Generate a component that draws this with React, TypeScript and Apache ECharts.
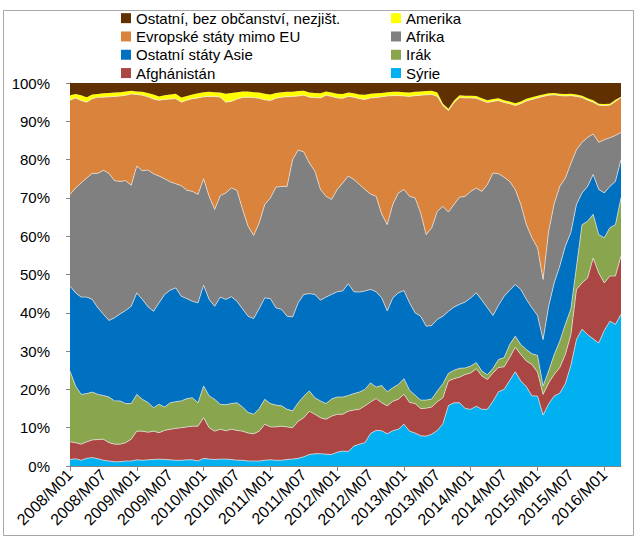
import React, { useEffect, useRef } from "react";
import * as echarts from "echarts";

// 2008/M01 .. 2016/M04 (100 months)
const startYear = 2008;
const monthCount = 100;
const categories: string[] = [];
for (let i = 0; i < monthCount; i++) {
  const y = startYear + Math.floor(i / 12);
  const m = (i % 12) + 1;
  categories.push(`${y}/M${m < 10 ? "0" + m : m}`);
}

const yTicks = [0, 10, 20, 30, 40, 50, 60, 70, 80, 90, 100];

// shares in %, bottom of the stack first
const syrie = [
  1.7, 1.9, 1.5, 2.0, 2.2, 1.9, 1.5, 1.3, 1.1, 1.1,
  1.3, 1.3, 1.6, 1.5, 1.6, 1.7, 1.8, 1.7, 1.6, 1.5,
  1.5, 1.6, 1.6, 1.3, 2.0, 1.8, 1.7, 1.8, 1.8, 1.7,
  1.5, 1.5, 1.3, 1.3, 1.3, 1.5, 1.6, 1.5, 1.5, 1.7,
  1.8, 2.0, 2.4, 3.0, 3.2, 3.2, 3.1, 3.0, 3.6, 3.9,
  3.8, 5.2, 5.7, 6.1, 8.5, 9.3, 9.2, 8.4, 9.2, 9.6,
  10.9, 9.1, 8.6, 7.9, 7.8, 8.3, 9.3, 11.0, 15.8, 16.5,
  16.5, 15.0, 14.8, 15.6, 14.8, 14.8, 16.9, 19.4, 20.0, 22.3,
  24.6, 22.2, 20.7, 18.3, 18.3, 13.3, 16.2, 18.3, 19.0, 21.5,
  26.3, 33.0, 35.7, 34.3, 33.2, 32.1, 35.4, 37.8, 37.0, 39.6,
];
const afghanistan = [
  4.6, 4.2, 4.2, 4.3, 4.6, 5.0, 5.5, 4.8, 4.6, 4.6,
  4.8, 5.7, 7.5, 7.6, 7.2, 7.4, 6.9, 7.6, 8.0, 8.3,
  8.5, 8.6, 8.8, 9.1, 10.6, 8.2, 7.4, 7.8, 7.4, 7.9,
  7.8, 7.6, 7.3, 7.1, 7.8, 9.4, 8.6, 8.7, 8.9, 8.5,
  8.2, 9.7, 10.2, 11.3, 10.3, 9.4, 9.1, 10.0, 9.9, 9.6,
  10.5, 9.4, 9.1, 9.6, 8.2, 8.3, 7.3, 7.3, 7.7, 7.8,
  7.8, 7.5, 7.7, 7.1, 7.3, 7.1, 7.5, 6.8, 6.4, 6.3,
  6.7, 8.9, 9.5, 9.8, 8.7, 7.8, 7.4, 6.3, 5.9, 6.0,
  6.4, 6.9, 6.7, 8.2, 6.2, 5.4, 5.5, 5.6, 6.7, 7.6,
  8.0, 13.1, 12.1, 14.8, 21.1, 18.3, 12.4, 11.8, 12.6, 15.2,
];
const irak = [
  18.5, 14.8, 13.0, 12.6, 12.5, 11.8, 11.4, 11.9, 11.3, 11.3,
  10.2, 9.3, 9.6, 8.3, 7.8, 6.1, 7.4, 6.1, 6.9, 7.0,
  7.0, 7.4, 7.4, 6.1, 8.3, 8.3, 8.3, 6.5, 6.8, 6.7,
  7.2, 6.3, 5.4, 5.1, 5.9, 6.5, 6.1, 5.7, 5.3, 4.6,
  4.4, 4.8, 5.6, 5.3, 4.3, 4.4, 4.1, 4.5, 4.5, 4.5,
  4.1, 4.3, 4.5, 4.3, 5.0, 3.0, 4.5, 3.7, 3.5, 3.9,
  4.1, 3.2, 2.2, 2.2, 2.1, 2.1, 2.8, 3.7, 2.0, 2.2,
  2.3, 1.7, 1.8, 1.6, 1.3, 1.2, 1.2, 2.1, 2.4, 3.4,
  2.9, 2.6, 3.0, 2.8, 4.4, 2.2, 3.1, 5.2, 6.9, 7.9,
  6.7, 5.9, 15.2, 14.8, 11.4, 10.0, 11.8, 12.6, 13.4, 15.2,
];
const ostatniAsie = [
  22.2, 24.3, 25.4, 25.2, 24.2, 22.6, 21.2, 20.0, 21.7, 22.7,
  24.3, 25.4, 26.5, 26.1, 25.0, 25.2, 26.5, 29.4, 29.4, 29.7,
  27.3, 26.1, 25.2, 26.1, 26.3, 25.2, 24.3, 28.0, 27.5, 27.9,
  26.5, 25.6, 25.1, 25.0, 26.1, 26.5, 27.4, 25.4, 25.2, 24.3,
  24.5, 26.1, 26.6, 25.4, 27.0, 26.3, 27.8, 27.3, 27.5, 27.7,
  29.2, 26.6, 26.1, 25.7, 24.4, 24.9, 22.9, 21.1, 23.5, 23.9,
  23.0, 22.8, 21.5, 21.9, 19.3, 19.2, 18.7, 17.6, 16.2, 16.5,
  16.7, 17.2, 17.8, 18.2, 18.5, 17.5, 13.8, 14.2, 16.0, 14.2,
  13.5, 14.4, 13.1, 12.0, 10.4, 12.1, 16.9, 18.7, 19.6, 20.4,
  20.0, 16.3, 8.3, 9.1, 10.4, 11.8, 11.7, 10.8, 11.3, 10.0,
];
const afrika = [
  23.9, 27.4, 29.8, 31.1, 32.9, 35.1, 37.6, 38.4, 35.8, 34.6,
  33.9, 31.6, 33.1, 33.6, 35.7, 35.9, 33.1, 30.2, 28.3, 27.2,
  28.9, 28.3, 28.7, 28.3, 27.8, 26.9, 25.3, 26.5, 27.8, 28.4,
  29.0, 26.0, 23.5, 21.7, 22.4, 24.4, 26.3, 31.5, 32.1, 33.9,
  41.1, 39.9, 37.2, 34.1, 32.2, 28.9, 26.3, 24.8, 26.7, 28.2,
  28.1, 29.3, 28.1, 26.5, 24.9, 24.9, 21.9, 22.5, 24.4, 26.1,
  26.4, 27.8, 30.0, 27.0, 23.9, 25.5, 28.2, 28.7, 25.9, 26.8,
  28.0, 27.6, 27.8, 27.4, 28.4, 32.2, 37.2, 34.3, 31.1, 28.4,
  24.8, 22.2, 19.5, 18.3, 17.7, 15.7, 19.6, 20.7, 20.8, 17.8,
  18.0, 14.3, 13.2, 12.8, 10.6, 12.3, 13.9, 12.7, 12.0, 7.1,
];
const evropa = [
  24.6, 23.5, 21.5, 19.8, 19.5, 19.9, 19.1, 20.0, 22.0, 22.3,
  22.3, 23.8, 18.7, 19.7, 19.1, 19.5, 19.8, 20.7, 21.6, 22.2,
  21.8, 23.5, 24.2, 25.2, 21.4, 26.1, 29.5, 25.7, 23.7, 22.6,
  23.8, 29.2, 33.7, 36.0, 32.5, 27.3, 25.4, 23.2, 23.3, 23.4,
  16.5, 14.1, 14.8, 17.2, 19.2, 23.9, 26.4, 26.9, 23.9, 22.1,
  20.8, 21.5, 22.4, 23.5, 25.1, 25.8, 30.6, 33.6, 28.4, 25.4,
  24.4, 26.1, 26.7, 30.7, 36.5, 34.8, 30.0, 26.3, 26.5, 26.6,
  26.0, 25.7, 24.4, 23.4, 23.7, 21.4, 18.7, 19.1, 19.5, 20.3,
  21.9, 26.3, 32.3, 36.1, 39.1, 47.8, 35.5, 28.4, 23.7, 21.4,
  17.7, 13.9, 11.7, 9.7, 8.3, 9.7, 8.9, 8.5, 8.9, 9.1,
];
const amerika = [
  1.3, 1.0, 1.4, 1.3, 1.1, 0.8, 1.0, 1.0, 1.0, 1.0,
  1.0, 0.9, 0.8, 0.9, 1.0, 1.2, 1.0, 1.1, 1.2, 1.3,
  1.2, 1.1, 1.1, 1.2, 1.2, 1.2, 1.1, 1.2, 2.2, 2.2,
  1.8, 1.6, 1.5, 1.4, 1.5, 1.6, 1.6, 1.4, 1.3, 1.3,
  1.2, 1.3, 1.2, 1.2, 1.2, 1.2, 1.0, 1.0, 1.1, 1.1,
  1.0, 1.0, 1.1, 1.2, 1.1, 1.1, 1.0, 1.0, 1.0, 1.0,
  1.0, 1.0, 1.0, 1.0, 1.0, 1.0, 1.0, 0.5, 0.5, 0.5,
  0.6, 0.6, 0.6, 0.6, 0.6, 0.6, 0.6, 0.6, 0.6, 0.6,
  0.6, 0.6, 0.6, 0.6, 0.6, 0.5, 0.5, 0.5, 0.5, 0.5,
  0.5, 0.5, 0.5, 0.5, 0.5, 0.4, 0.4, 0.4, 0.4, 0.2,
];
const ostatni = [
  3.2, 2.9, 3.2, 3.7, 3.0, 2.9, 2.7, 2.6, 2.5, 2.4,
  2.2, 2.0, 2.2, 2.3, 2.6, 3.0, 3.5, 3.2, 3.0, 2.8,
  3.8, 3.4, 3.0, 2.7, 2.4, 2.3, 2.4, 2.5, 2.8, 2.6,
  2.4, 2.2, 2.2, 2.4, 2.5, 2.8, 3.0, 2.6, 2.4, 2.3,
  2.3, 2.1, 2.0, 2.5, 2.6, 2.7, 2.2, 2.5, 2.8, 2.9,
  2.5, 2.7, 3.0, 3.1, 2.8, 2.7, 2.6, 2.4, 2.3, 2.3,
  2.4, 2.5, 2.3, 2.2, 2.1, 2.0, 2.5, 5.4, 6.7, 4.6,
  3.2, 3.3, 3.3, 3.4, 4.0, 4.5, 4.2, 4.0, 4.5, 4.8,
  5.3, 4.8, 4.1, 3.7, 3.3, 3.0, 2.7, 2.6, 2.8, 2.9,
  2.8, 3.0, 3.3, 4.0, 4.5, 5.4, 5.5, 5.4, 4.4, 3.6,
];

const seriesDefs = [
  { name: "Sýrie", data: syrie, color: "#00B0F0" },
  { name: "Afghánistán", data: afghanistan, color: "#AA4643" },
  { name: "Irák", data: irak, color: "#89A54E" },
  { name: "Ostatní státy Asie", data: ostatniAsie, color: "#0070C0" },
  { name: "Afrika", data: afrika, color: "#808080" },
  { name: "Evropské státy mimo EU", data: evropa, color: "#DA833C" },
  { name: "Amerika", data: amerika, color: "#FFFF00" },
  { name: "Ostatní, bez občanství, nezjišt.", data: ostatni, color: "#603000" },
];

const legendLeft = [
  "Ostatní, bez občanství, nezjišt.",
  "Evropské státy mimo EU",
  "Ostatní státy Asie",
  "Afghánistán",
];
const legendRight = ["Amerika", "Afrika", "Irák", "Sýrie"];

const FONT = "'Liberation Sans', Arial, sans-serif";

export default function App() {
  const ref = useRef<HTMLDivElement>(null);
  useEffect(() => {
    if (!ref.current) return;
    const chart = echarts.init(ref.current, null, { renderer: "svg" });
    // 100 % stacked: normalise each month to its total
    const totals = categories.map((_, i) =>
      seriesDefs.reduce((s, d) => s + d.data[i], 0)
    );
    const legendCommon = {
      orient: "vertical" as const,
      top: 9,
      padding: 0,
      itemWidth: 10,
      itemHeight: 10,
      itemGap: 0,
      icon: "rect",
      selectedMode: false,
      textStyle: { fontFamily: FONT, fontSize: 15, color: "#000", lineHeight: 18.3 },
    };
    chart.setOption({
      animation: false,
      backgroundColor: "#fff",
      textStyle: { fontFamily: FONT },
      legend: [
        { ...legendCommon, left: 121, data: legendLeft },
        { ...legendCommon, left: 391, data: legendRight },
      ],
      grid: { left: 70, right: 17, top: 83, bottom: 73 },
      xAxis: {
        type: "category",
        boundaryGap: false,
        data: categories,
        axisLine: { lineStyle: { color: "#868686", width: 1 } },
        axisTick: { interval: 11, length: 5, lineStyle: { color: "#868686" } },
        axisLabel: {
          interval: 5,
          rotate: 45,
          margin: 6,
          fontSize: 16,
          color: "#000",
          fontFamily: FONT,
        },
      },
      yAxis: {
        type: "value",
        min: yTicks[0],
        max: yTicks[yTicks.length - 1],
        interval: 10,
        axisLine: { show: true, lineStyle: { color: "#868686", width: 1 } },
        axisTick: { show: true, length: 4, lineStyle: { color: "#868686" } },
        splitLine: { show: false },
        axisLabel: {
          formatter: "{value}%",
          fontSize: 15,
          color: "#000",
          margin: 20,
          fontFamily: FONT,
        },
      },
      series: seriesDefs.map((d, k) => ({
        name: d.name,
        type: "line",
        stack: "total",
        symbol: "none",
        smooth: false,
        color: d.color,
        itemStyle: { color: d.color },
        lineStyle:
          k < 6
            ? { width: 0.8, color: "rgba(235,235,235,0.85)" }
            : { width: 0, opacity: 0 },
        areaStyle: { color: d.color, opacity: 1 },
        data: d.data.map((v, i) => (v * 100) / totals[i]),
      })),
      graphic: [
        {
          type: "rect",
          silent: true,
          shape: { x: 3.5, y: 10.5, width: 630, height: 525 },
          style: { fill: "none", stroke: "#a6a6a6", lineWidth: 1 },
        },
      ],
    });
    return () => chart.dispose();
  }, []);
  return (
    <div
      ref={ref}
      style={{ position: "fixed", left: 0, top: 0, width: 638, height: 539, background: "#fff" }}
    />
  );
}
